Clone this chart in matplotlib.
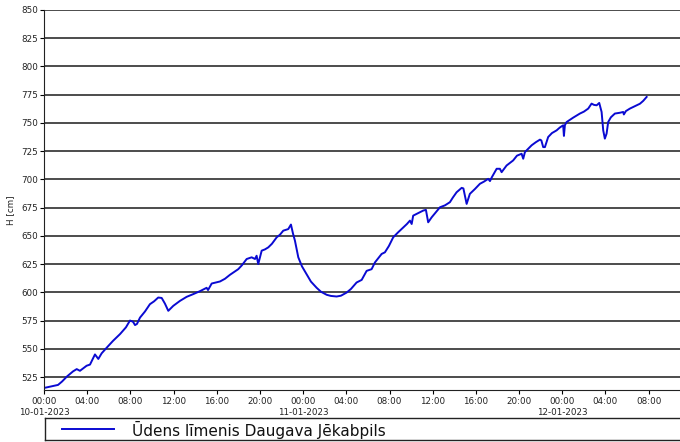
import matplotlib
matplotlib.use("Agg")
import matplotlib.pyplot as plt
import numpy as np

# stundas kopš 10-01-2023 00:00 un ūdens līmenis [cm]
stundas = [0.0, 0.1, 0.83, 1.3, 1.67, 2.13, 2.69, 3.03, 3.33, 3.95, 4.26, 4.72, 5.03, 5.34,
           5.81, 6.39, 7.04, 7.59, 7.96, 8.24, 8.43, 8.61, 8.89, 9.35, 9.81, 10.19, 10.58,
           10.9, 11.2, 11.51, 11.76, 11.97, 12.59, 13.21, 13.82, 14.44, 15.06, 15.19, 15.53,
           16.3, 16.76, 17.22, 17.99, 18.33, 18.77, 19.23, 19.54, 19.69, 19.84, 20.16, 20.46,
           20.77, 21.11, 21.55, 21.85, 22.16, 22.62, 22.87, 23.06, 23.24, 23.55, 23.89, 24.32,
           24.72, 25.25, 25.65, 26.18, 26.57, 27.1, 27.5, 28.03, 28.43, 28.95, 29.42, 29.88,
           30.34, 30.65, 31.27, 31.57, 31.94, 32.34, 32.78, 33.27, 33.61, 33.89, 34.05, 34.19,
           34.63, 35.12, 35.37, 35.58, 35.9, 36.3, 36.67, 37.13, 37.59, 37.87, 38.21, 38.68,
           38.84, 39.14, 39.44, 39.91, 40.37, 40.74, 41.14, 41.3, 41.48, 41.92, 42.22, 42.38,
           42.84, 43.45, 43.8, 44.23, 44.38, 44.54, 45.16, 45.56, 45.93, 46.06, 46.23, 46.39,
           46.69, 47.04, 47.47, 47.78, 48.08, 48.15, 48.24, 48.4, 49.01, 49.63, 50.0, 50.4,
           50.71, 50.93, 51.18, 51.42, 51.64, 51.79, 51.94, 52.1, 52.25, 52.5, 52.87, 53.33,
           53.64, 53.7, 53.89, 54.26, 54.88, 55.19, 55.49, 55.81]
limenis = [516, 515.5, 517, 518, 521, 525.5, 530, 532, 530.5, 535, 536, 545, 541, 546,
           551, 557, 563, 569, 575, 574, 571, 572, 577.6, 583, 589.5, 592, 595.4,
           595, 590, 583.6, 586, 588, 592.4, 596, 598.4, 601, 604, 602, 607.8,
           609.6, 612, 615.5, 620.5, 624, 629.5, 631, 629.5, 632.4, 625, 636.9, 638,
           639.8, 643, 648.7, 651, 654.6, 656, 660, 652, 645.7, 631, 623, 616,
           609.5, 604, 600.5, 597.8, 596.8, 596.3, 597, 599.8, 603, 608.7, 611, 619,
           620.5, 626.5, 634, 635.4, 641, 648.7, 653, 657.5, 660.5, 663.5, 660.5, 667.9,
           670, 672.4, 673, 662, 666.4, 671, 675.3, 677, 679.8, 684, 688.6, 692.5,
           692, 678.3, 687.2, 691.5, 696.1, 698, 700.5, 698.5, 702, 709.4, 709.4, 706.4,
           712.3, 716.8, 721, 722.7, 718.3, 724.2, 730.2, 733, 735.2, 734.5, 728.6, 728.6,
           737.5, 741, 743.4, 746, 747.9, 738.5, 748, 750.8, 754.7, 758.3, 760, 762.7,
           767.1, 766, 765.6, 767.7, 759.7, 743.4, 736.1, 740.5, 750.8, 755, 758.3, 759,
           759.7, 757.5, 760.5, 762.7, 765.6, 767, 769.5, 773]

y_ticks = list(range(525, 851, 25))
x_ticks = list(range(0, 57, 4))
datumi = {0: "10-01-2023", 24: "11-01-2023", 48: "12-01-2023"}
nosaukums = 'Ūdens līmenis Daugava Jēkabpils'

x_labels = []
for h in x_ticks:
    lbl = f"{h % 24:02d}:00"
    if h in datumi:
        lbl += "\n" + datumi[h]
    x_labels.append(lbl)

plt.rcParams['font.family'] = ['DejaVu Sans']
W, H = 680, 442
LINE_C = '#0a0ad2'

fig = plt.figure(figsize=(6.8, 4.42), dpi=100)
ax = fig.add_axes([44 / W, 1 - 390 / H, 1 - 44 / W, 380 / H])

ax.plot(stundas, limenis, color=LINE_C, lw=1.4)

ax.set_xlim(0, 58.9)
ax.set_ylim(513.5, 850)
ax.set_yticks(y_ticks)
ax.set_xticks(x_ticks)
ax.set_xticklabels(x_labels, fontsize=6.3, color='#222222', linespacing=1.3)
ax.tick_params(axis='y', labelsize=6.3, labelcolor='#222222', length=3, width=0.8, pad=1)
ax.tick_params(axis='x', length=3, width=0.8, pad=2)

ax.grid(axis='y', color='#3e3e3e', lw=1.3)
ax.set_axisbelow(True)
for s in ['top', 'right']:
    ax.spines[s].set_visible(False)
ax.spines['left'].set_color('#222222')
ax.spines['bottom'].set_color('#222222')

fig.text(11 / W, 1 - 210 / H, 'H [cm]', rotation=90, fontsize=6.3,
         color='#222222', va='center', ha='center')

# leģendas lodziņš apakšā
lax = fig.add_axes([45 / W, 1 - 440 / H, 1 - 45 / W, 22 / H])
lax.set_xlim(45, W)
lax.set_ylim(0, 1)
lax.set_xticks([])
lax.set_yticks([])
for s in ['left', 'top', 'bottom']:
    lax.spines[s].set_color('#222222')
    lax.spines[s].set_linewidth(1.0)
lax.spines['right'].set_visible(False)
lax.plot([62, 114], [0.5, 0.5], color=LINE_C, lw=1.4)
lax.text(132, 0.47, nosaukums, fontsize=11, va='center', ha='left', color='#111111')

fig.savefig('out.png', dpi=100)
